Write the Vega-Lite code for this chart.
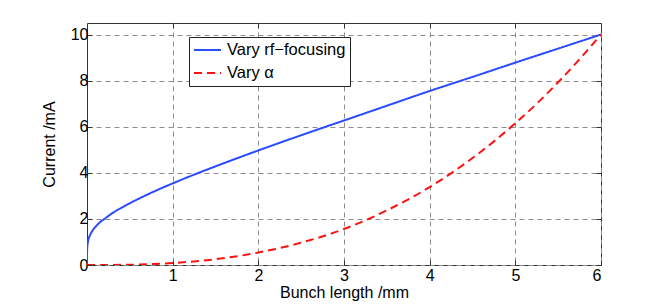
{
  "$schema": "https://vega.github.io/schema/vega-lite/v6.json",
  "autosize": "none",
  "padding": {"left": 87, "top": 23, "right": 63, "bottom": 40},
  "width": 514,
  "height": 242,
  "background": "white",
  "config": {
    "view": {"stroke": "#333333", "strokeWidth": 1},
    "font": "Liberation Sans",
    "axis": {
      "labelFont": "Liberation Sans",
      "titleFont": "Liberation Sans",
      "labelFontSize": 16,
      "titleFontSize": 16,
      "labelColor": "black",
      "titleColor": "black",
      "titleFontWeight": "normal",
      "domain": false,
      "tickColor": "#333333",
      "tickSize": -5,
      "gridColor": "#8c8c8c",
      "gridDash": [5, 4],
      "gridWidth": 1,
      "gridOpacity": 1
    }
  },
  "data": {
    "values": [
      {"x": 0, "y": 0, "s": "Vary rf−focusing"},
      {"x": 0.0005, "y": 0.52, "s": "Vary rf−focusing"},
      {"x": 0.002, "y": 0.71, "s": "Vary rf−focusing"},
      {"x": 0.005, "y": 0.86, "s": "Vary rf−focusing"},
      {"x": 0.01, "y": 0.99, "s": "Vary rf−focusing"},
      {"x": 0.02, "y": 1.15, "s": "Vary rf−focusing"},
      {"x": 0.04, "y": 1.33, "s": "Vary rf−focusing"},
      {"x": 0.07, "y": 1.52, "s": "Vary rf−focusing"},
      {"x": 0.1, "y": 1.66, "s": "Vary rf−focusing"},
      {"x": 0.15, "y": 1.85, "s": "Vary rf−focusing"},
      {"x": 0.2, "y": 1.99, "s": "Vary rf−focusing"},
      {"x": 0.3, "y": 2.26, "s": "Vary rf−focusing"},
      {"x": 0.4, "y": 2.48, "s": "Vary rf−focusing"},
      {"x": 0.5, "y": 2.68, "s": "Vary rf−focusing"},
      {"x": 0.65, "y": 2.96, "s": "Vary rf−focusing"},
      {"x": 0.8, "y": 3.22, "s": "Vary rf−focusing"},
      {"x": 1, "y": 3.54, "s": "Vary rf−focusing"},
      {"x": 1.25, "y": 3.92, "s": "Vary rf−focusing"},
      {"x": 1.5, "y": 4.28, "s": "Vary rf−focusing"},
      {"x": 1.75, "y": 4.63, "s": "Vary rf−focusing"},
      {"x": 2, "y": 4.97, "s": "Vary rf−focusing"},
      {"x": 2.5, "y": 5.63, "s": "Vary rf−focusing"},
      {"x": 3, "y": 6.27, "s": "Vary rf−focusing"},
      {"x": 3.5, "y": 6.91, "s": "Vary rf−focusing"},
      {"x": 4, "y": 7.55, "s": "Vary rf−focusing"},
      {"x": 4.5, "y": 8.16, "s": "Vary rf−focusing"},
      {"x": 5, "y": 8.78, "s": "Vary rf−focusing"},
      {"x": 5.5, "y": 9.39, "s": "Vary rf−focusing"},
      {"x": 6, "y": 10, "s": "Vary rf−focusing"},
      {"x": 0, "y": 0, "s": "Vary α"},
      {"x": 0.5, "y": 0.013, "s": "Vary α"},
      {"x": 1, "y": 0.085, "s": "Vary α"},
      {"x": 1.5, "y": 0.25, "s": "Vary α"},
      {"x": 2, "y": 0.54, "s": "Vary α"},
      {"x": 2.5, "y": 0.97, "s": "Vary α"},
      {"x": 3, "y": 1.56, "s": "Vary α"},
      {"x": 3.5, "y": 2.37, "s": "Vary α"},
      {"x": 4, "y": 3.38, "s": "Vary α"},
      {"x": 4.5, "y": 4.64, "s": "Vary α"},
      {"x": 5, "y": 6.15, "s": "Vary α"},
      {"x": 5.25, "y": 7.0, "s": "Vary α"},
      {"x": 5.5, "y": 7.93, "s": "Vary α"},
      {"x": 5.75, "y": 8.93, "s": "Vary α"},
      {"x": 6, "y": 10, "s": "Vary α"}
    ]
  },
  "resolve": {"axis": {"x": "independent", "y": "independent"}},
  "layer": [
    {
      "mark": {"type": "line", "strokeWidth": 2, "interpolate": "monotone", "clip": true},
      "encoding": {
        "x": {
          "field": "x", "type": "quantitative",
          "scale": {"domain": [0, 6], "nice": false, "zero": false},
          "axis": {"orient": "bottom", "values": [1, 2, 3, 4, 5, 6], "title": "Bunch length /mm", "labelPadding": 7, "titlePadding": 1, "grid": true}
        },
        "y": {
          "field": "y", "type": "quantitative",
          "scale": {"domain": [0, 10.5], "nice": false},
          "axis": {"orient": "left", "values": [0, 2, 4, 6, 8, 10], "title": "Current /mA", "labelPadding": 4, "titlePadding": 13, "grid": true}
        },
        "color": {
          "field": "s", "type": "nominal",
          "scale": {"domain": ["Vary rf−focusing", "Vary α"], "range": ["#2a4bff", "#ff1010"]},
          "legend": {
            "orient": "none", "legendX": 102, "legendY": 14,
            "title": null, "strokeColor": "#222222", "fillColor": "white",
            "padding": 4, "labelFont": "Liberation Sans", "labelFontSize": 16.5, "labelColor": "black",
            "symbolType": "stroke", "symbolSize": 729, "symbolStrokeWidth": 2,
            "clipHeight": 18, "rowPadding": 5, "labelOffset": 5
          }
        },
        "strokeDash": {
          "field": "s", "type": "nominal",
          "scale": {"domain": ["Vary rf−focusing", "Vary α"], "range": [[1, 0], [8, 5]]},
          "legend": null
        }
      }
    },
    {
      "mark": {"type": "line", "opacity": 0},
      "encoding": {
        "x": {
          "field": "x", "type": "quantitative",
          "axis": {"orient": "top", "values": [1, 2, 3, 4, 5, 6], "labels": false, "title": null, "grid": false}
        },
        "y": {
          "field": "y", "type": "quantitative",
          "axis": {"orient": "right", "values": [0, 2, 4, 6, 8, 10], "labels": false, "title": null, "grid": false}
        },
        "detail": {"field": "s"}
      }
    }
  ]
}
